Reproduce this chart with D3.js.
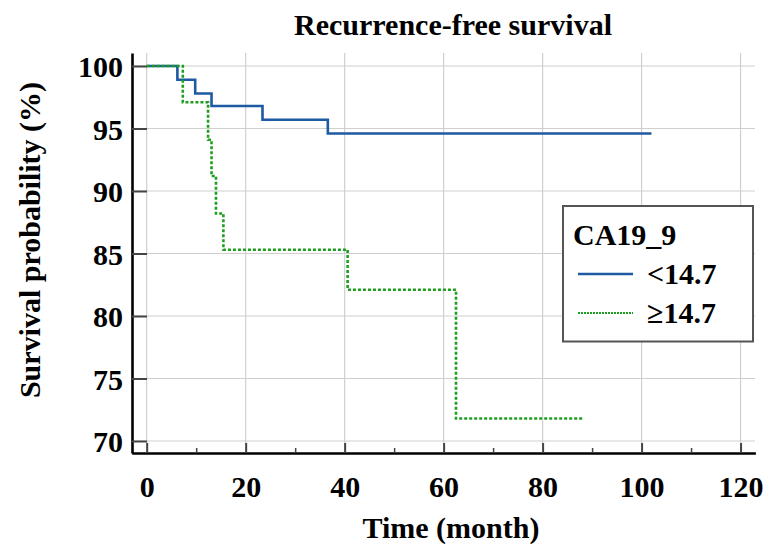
<!DOCTYPE html>
<html>
<head>
<meta charset="utf-8">
<script src="https://cdn.jsdelivr.net/npm/d3@7"></script>
</head>
<body style="margin:0; background:#fff">
<div id="chart"></div>
<script>
// Kaplan-Meier steps
const lowTimes = [0, 6.2, 9.8, 13.1, 23.4, 36.6, 102]
const lowSurv = [100, 98.9, 97.8, 96.8, 95.7, 94.6, 94.6]
const highTimes = [0, 7.3, 12.4, 13.1, 14.0, 15.5, 40.6, 62.5, 88.1]
const highSurv = [100, 97.1, 94.1, 91.2, 88.2, 85.3, 82.1, 71.8, 71.8]
const groupNames = ["<14.7", "\u226514.7"]
const xTicks = [0, 20, 40, 60, 80, 100, 120]
const xMinorTicks = [10, 30, 50, 70, 90, 110]
const yTicks = [70, 75, 80, 85, 90, 95, 100]

const FONT = "'Liberation Serif', 'Times New Roman', serif"
const width = 766, height = 548;
const svg = d3.select("#chart").append("svg")
  .attr("width", width)
  .attr("height", height);

const x = d3.scaleLinear().domain([-3.03, 123]).range([131.7, 755.4]);
const y = d3.scaleLinear().domain([69.04, 101.04]).range([453, 53]);

function label(sel) {
  return sel.style("font-family", FONT).style("font-weight", "bold")
    .style("font-size", "30px").attr("fill", "#000")
}

// grid
svg.append("g").selectAll("line").data(xTicks).join("line")
  .attr("x1", d => x(d)).attr("x2", d => x(d))
  .attr("y1", 53).attr("y2", 453)
  .attr("stroke", "#cfcfcf").attr("stroke-width", 1.2);
svg.append("g").selectAll("line").data(yTicks).join("line")
  .attr("x1", 132).attr("x2", 755)
  .attr("y1", d => y(d)).attr("y2", d => y(d))
  .attr("stroke", "#cfcfcf").attr("stroke-width", 1.2);

// axes
const yAxis = svg.append("g")
  .attr("transform", "translate(132,0)")
  .call(d3.axisLeft(y).tickValues(yTicks).tickSize(-15).tickSizeOuter(0).tickPadding(9));
const xAxis = svg.append("g")
  .attr("transform", "translate(0,453)")
  .call(d3.axisBottom(x).tickValues(xTicks).tickSize(-10).tickSizeOuter(0).tickPadding(23));
const xMinor = svg.append("g")
  .attr("transform", "translate(0,453)")
  .call(d3.axisBottom(x).tickValues(xMinorTicks).tickSize(-5).tickSizeOuter(0).tickFormat(""));
xMinor.select(".domain").remove();

[yAxis, xAxis].forEach(a => {
  a.attr("font-family", null).attr("font-size", null);
  a.select(".domain").attr("stroke", "#000").attr("stroke-width", 2.6);
  label(a.selectAll("text"));
});
yAxis.selectAll("text").attr("dy", "0.36em");
yAxis.selectAll(".tick line").attr("stroke", "#444").attr("stroke-width", 2);
xAxis.selectAll(".tick line").attr("stroke", "#444").attr("stroke-width", 2);
xMinor.selectAll(".tick line").attr("stroke", "#444").attr("stroke-width", 1.5);

// survival curves
const line = d3.line()
  .x(d => x(d[0]))
  .y(d => y(d[1]))
  .curve(d3.curveStepAfter);

svg.append("path")
  .datum(d3.zip(lowTimes, lowSurv))
  .attr("d", line)
  .attr("fill", "none")
  .attr("stroke", "#1d5aa3")
  .attr("stroke-width", 2.6);

svg.append("path")
  .datum(d3.zip(highTimes, highSurv))
  .attr("d", line)
  .attr("fill", "none")
  .attr("stroke", "#1e9e1e")
  .attr("stroke-width", 2.6)
  .attr("stroke-dasharray", "3,2");

// titles
label(svg.append("text"))
  .attr("x", 453).attr("y", 35)
  .attr("text-anchor", "middle")
  .text("Recurrence-free survival");

label(svg.append("text"))
  .attr("x", 451).attr("y", 538)
  .attr("text-anchor", "middle")
  .text("Time (month)");

label(svg.append("text"))
  .attr("transform", "translate(40,240) rotate(-90)")
  .attr("text-anchor", "middle")
  .text("Survival probability (%)");

// legend
const legend = svg.append("g");
legend.append("rect")
  .attr("x", 563).attr("y", 206)
  .attr("width", 190).attr("height", 135.5)
  .attr("fill", "#fff")
  .attr("stroke", "#555")
  .attr("stroke-width", 2);
label(legend.append("text"))
  .attr("x", 573).attr("y", 245)
  .text("CA19_9");

const itemY = [274, 313];
groupNames.forEach((name, i) => {
  legend.append("line")
    .attr("x1", 578).attr("x2", 633)
    .attr("y1", itemY[i]).attr("y2", itemY[i])
    .attr("stroke", i == 0 ? "#1d5aa3" : "#1e9e1e")
    .attr("stroke-width", i == 0 ? 2.4 : 2)
    .attr("stroke-dasharray", i == 0 ? null : "2,1");
  label(legend.append("text"))
    .attr("x", 647).attr("y", itemY[i] + 10)
    .text(name);
});
</script>
</body>
</html>
